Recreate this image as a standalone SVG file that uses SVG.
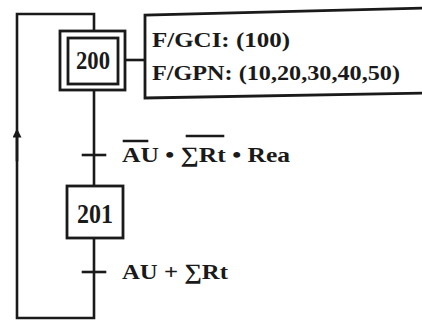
<svg xmlns="http://www.w3.org/2000/svg" width="422" height="322" viewBox="0 0 422 322">
<style>
.ln{fill:none;stroke:#1a1a1a;stroke-width:2.6;stroke-linecap:square}
.bx{fill:#fff;stroke:#1a1a1a;stroke-width:2.8}
.t{font-family:"Liberation Serif","Times New Roman",serif;font-weight:bold;fill:#1a1a1a}
</style>
<defs>
<marker id="up" viewBox="0 0 10 10" refX="5" refY="5" markerWidth="12" markerHeight="9" markerUnits="userSpaceOnUse" orient="auto">
<path d="M0,0 L10,5 L0,10 Z" fill="#1a1a1a"/>
</marker>
</defs>
<g id="connectors">
<path class="ln" d="M94,238 V318 H17 V14 H94 V31"/>
<path class="ln" d="M17,160 V133" marker-end="url(#up)"/>
<path class="ln" d="M94,90 V186"/>
<path class="ln" d="M83,155 H105"/>
<path class="ln" d="M83,272 H105"/>
<path class="ln" d="M125,60 H145"/>
<g id="t1">
<text class="t" x="122" y="162" font-size="22" textLength="168" lengthAdjust="spacingAndGlyphs">AU • ∑Rt • Rea</text>
<path class="ln" stroke-width="2" d="M124,141 H147 M187,136 H223"/>
</g>
<text id="t2" class="t" x="122" y="279" font-size="22" textLength="106" lengthAdjust="spacingAndGlyphs">AU + ∑Rt</text>
</g>
<g id="step200">
<rect class="bx" x="60" y="31" width="65" height="59"/>
<rect class="bx" x="68" y="38" width="50" height="46"/>
<text class="t" x="93" y="69" font-size="25" text-anchor="middle" textLength="34" lengthAdjust="spacingAndGlyphs">200</text>
</g>
<g id="step201">
<rect class="bx" x="67" y="186" width="56" height="52"/>
<text class="t" x="95" y="223" font-size="27" text-anchor="middle" textLength="36" lengthAdjust="spacingAndGlyphs">201</text>
</g>
<g id="action200">
<path class="bx" d="M424,8 L145,15 L145,98 L424,93"/>
<text class="t" x="152" y="47" font-size="22" textLength="138" lengthAdjust="spacingAndGlyphs">F/GCI: (100)</text>
<text class="t" x="152" y="80" font-size="22" textLength="248" lengthAdjust="spacingAndGlyphs">F/GPN: (10,20,30,40,50)</text>
</g>
</svg>
